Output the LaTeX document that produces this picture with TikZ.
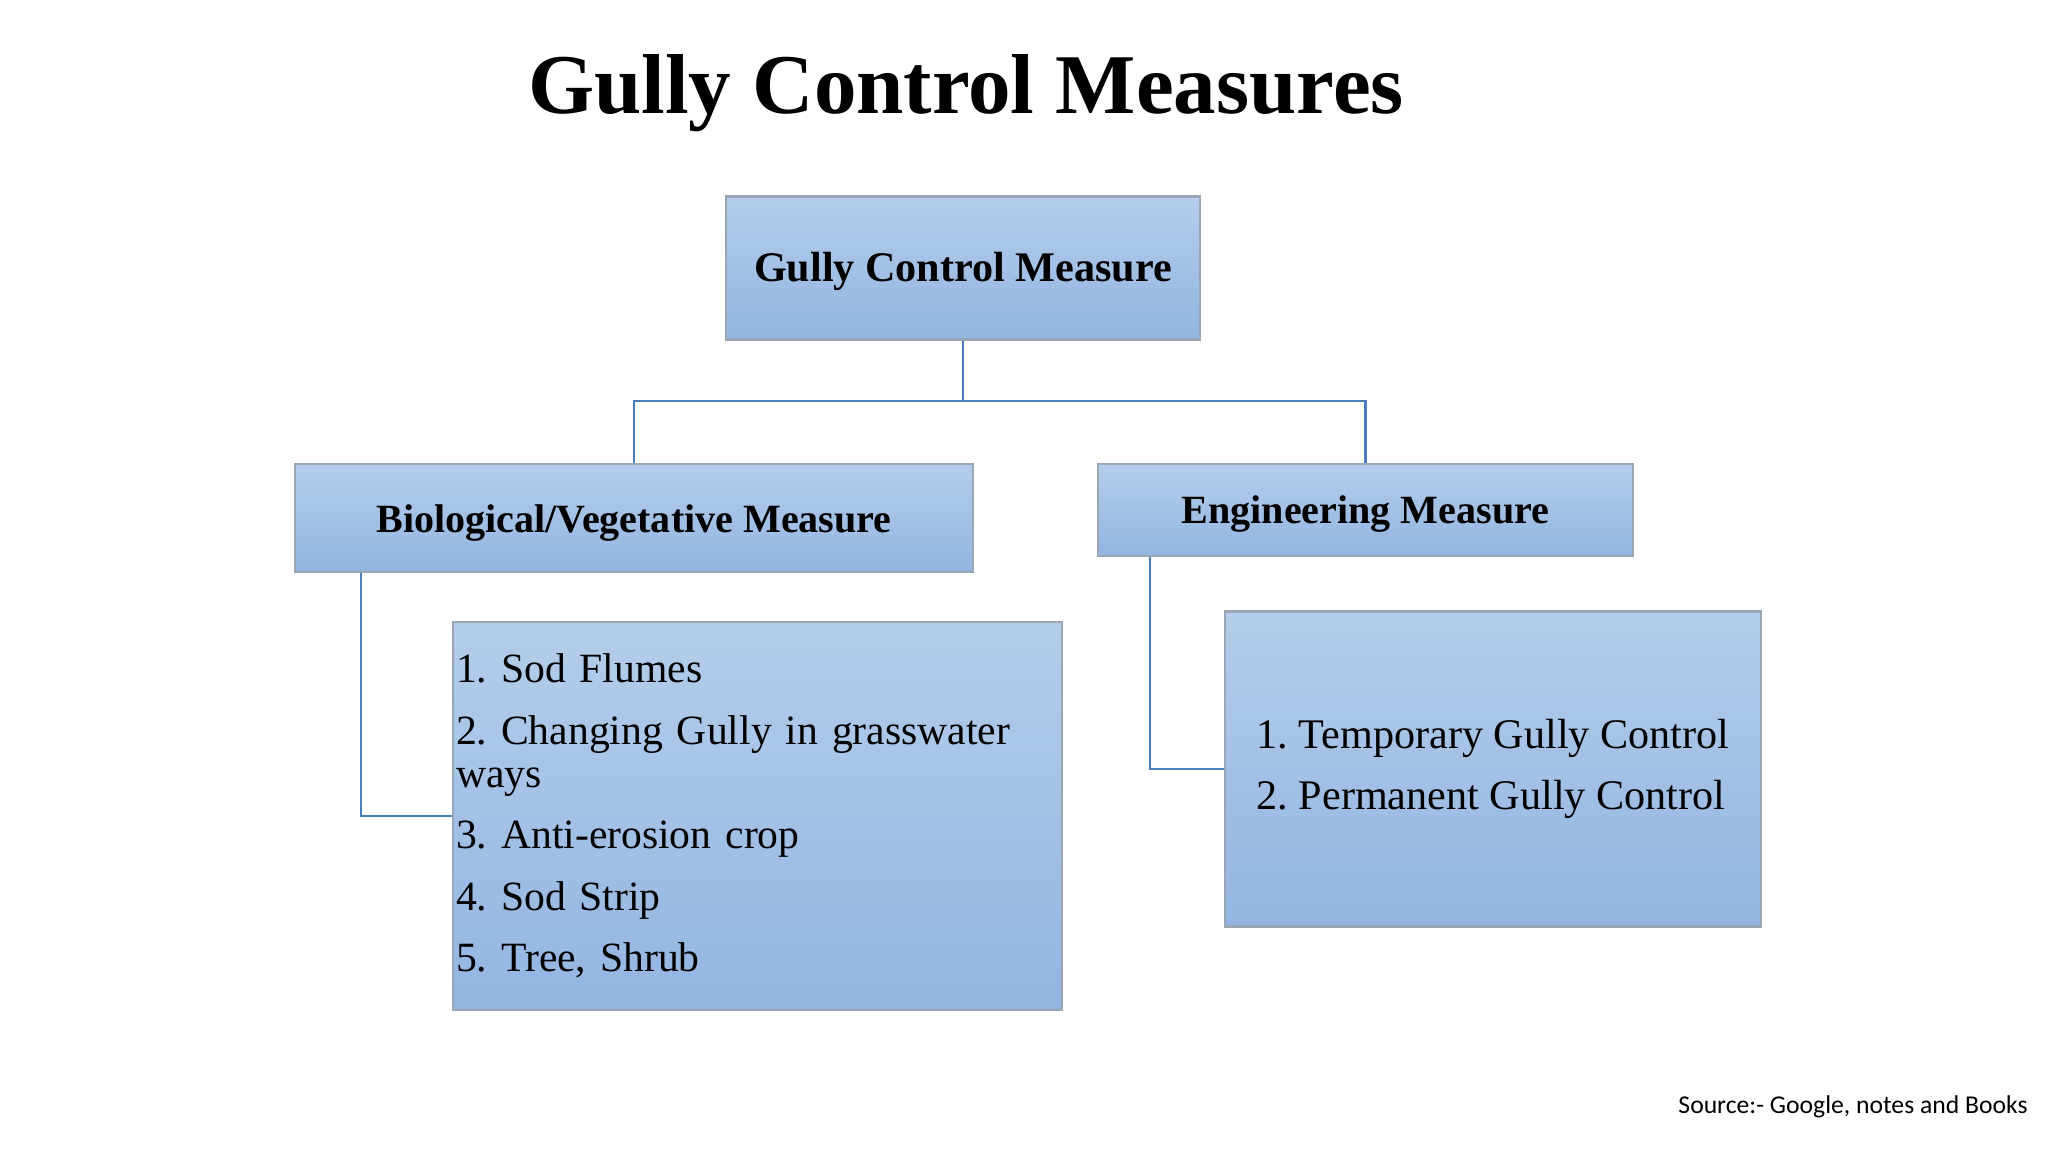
\documentclass[tikz,border=0pt]{standalone}
\usepackage{fontspec}
\setmainfont{Liberation Serif}
\newfontfamily\srcfont{Carlito}
\usetikzlibrary{positioning,calc}
\definecolor{boxtop}{HTML}{B4CDEA}
\definecolor{boxbot}{HTML}{93B5E2}
\definecolor{boxedge}{HTML}{9AA6B4}
\definecolor{linkblue}{HTML}{4A7EBB}
\frenchspacing
\newcommand{\lowered}[2]{\raisebox{-#1}[\height][\depth]{#2}}

\begin{document}
\begin{tikzpicture}[x=0.1mm, y=-0.1mm,
  panel/.style={draw=boxedge, line width=0.6pt, top color=boxtop, bottom color=boxbot, inner sep=0pt},
  link/.style={draw=linkblue, line width=0.6pt}]
% canvas in px of a 2048 x 1152 slide, y runs downward
\useasboundingbox (0,0) rectangle (2048,1152);
\node[font=\fontsize{24.2}{28}\selectfont\bfseries, anchor=base] (title) at (966,114) {Gully Control Measures};
\node[panel, minimum width=47.4mm, minimum height=14.3mm, font=\fontsize{12}{14}\selectfont\bfseries] (gcm) at (963,268) {\lowered{0.3mm}{Gully Control Measure}};
\node[panel, minimum width=67.8mm, minimum height=10.8mm, font=\fontsize{11.4}{14}\selectfont\bfseries] (bio) at (634,518) {\lowered{0.5mm}{Biological/Vegetative Measure}};
\node[panel, minimum width=53.5mm, minimum height=9.2mm, font=\fontsize{11.4}{14}\selectfont\bfseries] (eng) at (1365.5,510) {\lowered{0.4mm}{Engineering Measure}};
\node[panel, minimum width=60.9mm, minimum height=38.8mm, inner xsep=0.3mm, text width=60.3mm, align=left, font=\fontsize{11.85}{12.2}\selectfont] (biolist) at (757.5,816)
  {1. Sod Flumes\\[5.3pt] 2. Changing Gully in grasswater\\ ways\\[5.3pt] 3. Anti-erosion crop\\[5.3pt] 4. Sod Strip\\[5.3pt] 5. Tree, Shrub};
\node[panel, minimum width=53.6mm, minimum height=31.5mm, align=left, font=\fontsize{12}{12.2}\selectfont] (englist) at (1493,769)
  {1. Temporary Gully Control\\[5.2pt] 2. Permanent Gully Control};
\node[font=\srcfont\fontsize{7.3}{9}\selectfont, anchor=base east] (src) at (2040,1113) {Source:- Google, notes and Books};
% tree connectors
\coordinate (fork) at (963,401);
\draw[link] (gcm.south) -- (fork);
\draw[link] (bio.north) |- (fork) -| (eng.north);
\draw[link] ([xshift=6.7mm]bio.south west) |- (biolist.west);
\draw[link] ([xshift=5.3mm]eng.south west) |- (englist.west);
\end{tikzpicture}
\end{document}
